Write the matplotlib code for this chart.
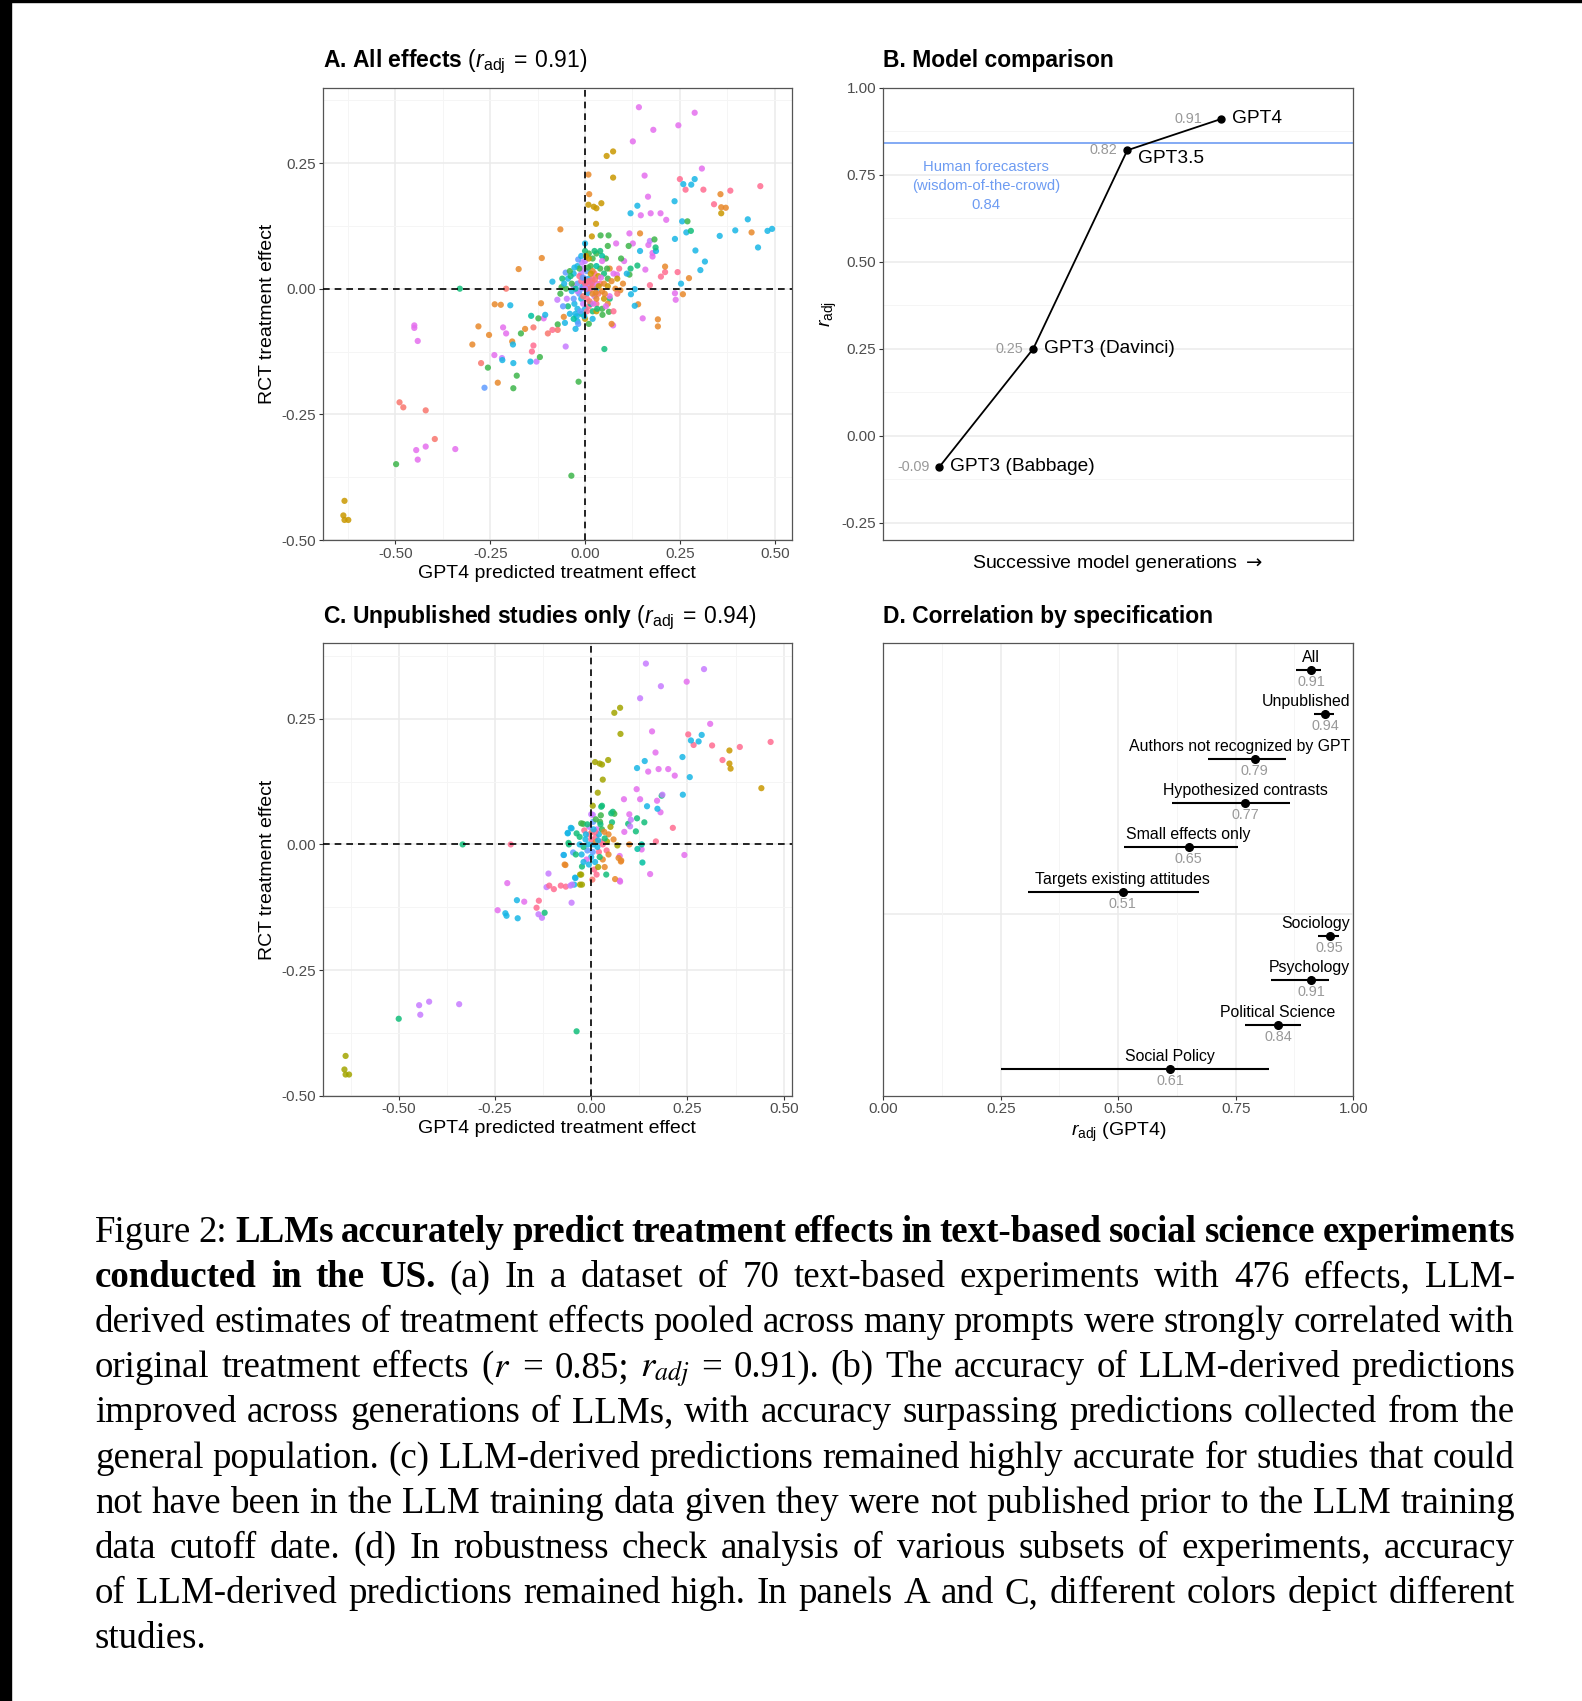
import matplotlib
matplotlib.use('Agg')
import matplotlib.pyplot as plt
from matplotlib.patches import Rectangle
import numpy as np

plt.rcParams['font.family'] = ['Liberation Sans', 'DejaVu Sans']
plt.rcParams['mathtext.fontset'] = 'custom'
plt.rcParams['mathtext.rm'] = 'Liberation Sans'
plt.rcParams['mathtext.it'] = 'Liberation Sans:italic'
plt.rcParams['mathtext.bf'] = 'Liberation Sans:bold'

# study colours (ggplot hue-like), keyed by a letter
STUDY_COLORS = {
    'S': '#F8766D', 'O': '#E8882A', 'G': '#C99800', 'L': '#A3A500',
    'g': '#3DB54A', 'E': '#12BE7A', 'T': '#00C0A0', 'C': '#18B6E6',
    'B': '#619CFF', 'V': '#C77CFF', 'M': '#E46FEE', 'P': '#FF6C91',
}

# panel A: (GPT4 predicted, RCT effect, study colour)
A_POINTS = [
    (-0.634, -0.422, 'G'), (-0.637, -0.451, 'G'), (-0.634, -0.460, 'G'), (-0.624, -0.460, 'G'),
    (-0.498, -0.349, 'g'), (-0.489, -0.226, 'S'), (-0.479, -0.236, 'S'), (-0.420, -0.242, 'S'),
    (-0.396, -0.299, 'S'), (-0.445, -0.321, 'M'), (-0.420, -0.314, 'M'), (-0.441, -0.340, 'M'),
    (-0.342, -0.319, 'M'), (-0.450, -0.073, 'M'), (-0.450, -0.078, 'M'), (-0.441, -0.104, 'M'),
    (-0.036, -0.372, 'g'), (-0.017, -0.185, 'g'), (-0.330, 0.000, 'E'), (-0.208, 0.000, 'S'),
    (-0.281, -0.075, 'O'), (-0.253, -0.092, 'O'), (-0.297, -0.111, 'O'), (-0.238, -0.031, 'O'),
    (-0.222, -0.032, 'O'), (-0.274, -0.148, 'S'), (-0.230, -0.187, 'O'), (-0.175, 0.039, 'O'),
    (-0.114, 0.061, 'O'), (-0.065, 0.118, 'O'), (-0.158, -0.080, 'O'), (-0.192, -0.105, 'O'),
    (-0.116, -0.029, 'O'), (-0.056, -0.056, 'O'),
    (-0.216, -0.077, 'M'), (-0.208, -0.089, 'M'), (-0.239, -0.132, 'M'), (-0.140, -0.125, 'P'),
    (-0.136, -0.113, 'P'), (-0.109, -0.059, 'M'), (-0.086, -0.082, 'P'),
    (-0.219, -0.138, 'V'), (-0.051, -0.115, 'V'), (-0.073, -0.022, 'V'), (-0.128, -0.145, 'V'),
    (-0.256, -0.157, 'g'), (-0.180, -0.173, 'g'), (-0.189, -0.198, 'g'), (-0.169, -0.089, 'g'),
    (-0.119, -0.136, 'g'), (-0.142, -0.054, 'T'), (-0.123, -0.059, 'g'), (-0.062, 0.003, 'g'),
    (-0.072, -0.071, 'g'), (-0.265, -0.197, 'B'), (-0.051, 0.032, 'B'),
    (-0.197, -0.033, 'C'), (-0.190, -0.111, 'C'), (-0.189, -0.148, 'C'), (-0.218, -0.142, 'C'),
    (-0.144, -0.145, 'C'), (-0.105, -0.052, 'C'), (-0.086, 0.014, 'C'), (-0.053, -0.068, 'C'),
    (-0.136, -0.077, 'S'), (-0.098, -0.089, 'S'), (-0.072, -0.082, 'S'),
    (0.142, 0.361, 'M'), (0.289, 0.350, 'M'), (0.246, 0.325, 'M'), (0.180, 0.316, 'M'),
    (0.126, 0.293, 'M'), (0.308, 0.239, 'M'), (0.157, 0.225, 'M'), (0.166, 0.183, 'M'),
    (0.147, 0.146, 'M'), (0.173, 0.150, 'M'), (0.199, 0.150, 'M'), (0.214, 0.137, 'M'),
    (0.117, 0.110, 'M'), (0.126, 0.090, 'M'), (0.082, 0.090, 'M'), (0.167, 0.087, 'M'),
    (0.178, 0.071, 'M'), (0.178, 0.064, 'M'), (0.171, 0.095, 'V'), (0.103, 0.055, 'M'),
    (0.159, 0.038, 'M'), (0.084, 0.028, 'M'), (0.237, -0.009, 'M'), (0.239, -0.022, 'M'),
    (0.152, -0.059, 'M'), (0.074, -0.073, 'M'), (0.171, 0.007, 'P'), (0.200, 0.024, 'P'),
    (0.250, 0.218, 'P'), (0.265, 0.197, 'P'), (0.312, 0.197, 'P'), (0.383, 0.195, 'P'),
    (0.462, 0.204, 'P'), (0.340, 0.168, 'P'), (0.211, 0.033, 'P'), (0.244, 0.033, 'P'),
    (0.057, 0.264, 'G'), (0.074, 0.273, 'G'), (0.074, 0.221, 'G'), (0.009, 0.167, 'G'),
    (0.023, 0.163, 'G'), (0.030, 0.160, 'G'), (0.043, 0.170, 'G'), (0.029, 0.129, 'G'),
    (0.018, 0.104, 'G'), (0.357, 0.188, 'O'), (0.359, 0.162, 'O'), (0.371, 0.161, 'O'),
    (0.359, 0.150, 'G'), (0.274, 0.021, 'O'), (0.258, -0.011, 'O'),
    (0.009, 0.227, 'O'), (0.011, 0.188, 'O'), (0.145, 0.110, 'O'), (0.211, 0.044, 'O'),
    (0.192, -0.061, 'O'), (0.192, -0.075, 'O'), (0.439, 0.112, 'O'), (0.140, -0.031, 'O'),
    (0.093, -0.003, 'O'),
    (0.138, 0.165, 'C'), (0.120, 0.150, 'C'), (0.236, 0.174, 'C'), (0.259, 0.208, 'C'),
    (0.280, 0.207, 'C'), (0.289, 0.218, 'C'), (0.256, 0.134, 'C'), (0.267, 0.112, 'C'),
    (0.237, 0.099, 'C'), (0.279, 0.115, 'E'), (0.355, 0.105, 'C'), (0.396, 0.116, 'C'),
    (0.429, 0.138, 'C'), (0.481, 0.115, 'C'), (0.493, 0.119, 'C'), (0.456, 0.082, 'C'),
    (0.316, 0.054, 'C'), (0.304, 0.037, 'C'), (0.291, 0.076, 'C'), (0.253, 0.010, 'C'),
    (0.145, 0.075, 'C'), (0.131, -0.001, 'C'), (0.121, -0.011, 'C'), (0.131, -0.034, 'C'),
    (0.187, 0.075, 'C'),
    (0.041, 0.106, 'g'), (0.062, 0.106, 'g'), (0.183, 0.098, 'g'), (0.186, 0.082, 'E'),
    (0.270, 0.134, 'g'), (0.115, 0.085, 'g'), (0.138, 0.046, 'E'), (0.117, 0.028, 'g'),
    (0.051, -0.120, 'E'), (0.046, -0.052, 'g'), (0.063, -0.046, 'g'),
    # dense centre
    (-0.030, 0.030, 'C'), (-0.020, 0.045, 'C'), (-0.045, 0.020, 'C'), (-0.010, -0.020, 'C'),
    (0.000, -0.040, 'C'), (-0.025, -0.050, 'C'), (-0.020, -0.065, 'C'), (0.005, -0.010, 'C'),
    (-0.035, -0.005, 'C'), (0.010, 0.020, 'C'), (0.030, 0.000, 'C'), (-0.005, 0.005, 'C'),
    (0.000, 0.090, 'C'), (0.015, 0.010, 'C'), (-0.028, -0.030, 'C'), (0.020, -0.060, 'C'),
    (-0.010, 0.000, 'B'), (-0.020, 0.010, 'B'), (0.000, 0.020, 'B'), (0.010, -0.005, 'B'),
    (-0.015, -0.010, 'B'), (0.005, 0.035, 'B'), (-0.030, -0.020, 'B'),
    (-0.005, 0.040, 'V'), (0.010, 0.005, 'V'), (-0.020, -0.005, 'V'), (0.025, -0.015, 'V'),
    (-0.010, 0.030, 'V'), (0.000, 0.055, 'V'), (-0.030, 0.005, 'V'),
    (0.000, 0.010, 'P'), (0.015, 0.000, 'P'), (-0.010, 0.015, 'P'), (0.020, 0.020, 'P'),
    (0.005, -0.020, 'P'), (0.030, -0.030, 'P'), (-0.015, 0.025, 'P'), (0.040, 0.010, 'P'),
    (0.025, 0.030, 'P'), (0.010, -0.035, 'P'),
    (0.005, 0.000, 'S'), (-0.005, -0.015, 'S'), (0.020, 0.005, 'S'), (0.035, -0.010, 'S'),
    (0.010, 0.015, 'S'),
    (-0.040, 0.035, 'g'), (-0.050, 0.000, 'g'), (0.030, 0.070, 'g'), (0.015, 0.045, 'g'),
    (0.040, 0.040, 'g'), (0.055, 0.060, 'g'), (-0.015, 0.040, 'g'), (0.045, -0.040, 'g'),
    (0.010, -0.070, 'g'), (-0.035, 0.010, 'g'), (0.020, 0.060, 'g'), (0.060, 0.020, 'g'),
    (-0.060, 0.020, 'E'), (0.000, 0.075, 'E'), (0.025, 0.075, 'E'), (0.050, 0.030, 'E'),
    (-0.045, -0.035, 'E'), (0.020, -0.045, 'E'), (0.065, -0.020, 'E'),
    (-0.025, 0.000, 'T'), (0.030, 0.045, 'T'), (0.045, 0.065, 'T'), (-0.010, -0.050, 'T'),
    (0.015, -0.030, 'T'),
    (0.030, -0.020, 'O'), (0.045, -0.005, 'O'), (0.060, -0.030, 'O'), (0.070, -0.070, 'O'),
    (0.020, 0.035, 'O'), (0.065, 0.040, 'O'), (0.080, 0.000, 'O'), (0.050, 0.010, 'O'),
    (0.020, -0.010, 'O'),
    (0.010, 0.060, 'G'), (0.035, 0.025, 'G'), (0.050, -0.020, 'G'), (0.000, -0.060, 'G'),
    (0.015, 0.030, 'G'), (0.060, 0.005, 'G'), (0.030, -0.045, 'G'),
    (0.045, 0.055, 'M'), (0.055, -0.035, 'M'), (0.065, -0.015, 'M'), (0.030, 0.010, 'M'),
    (0.090, 0.040, 'P'), (0.100, 0.010, 'O'), (0.085, -0.010, 'S'), (0.095, 0.060, 'g'),
    (0.075, 0.030, 'M'), (0.110, 0.030, 'C'), (0.120, 0.040, 'E'),
    (-0.020, -0.040, 'C'), (-0.022, -0.055, 'C'), (-0.018, -0.070, 'B'), (-0.025, -0.080, 'C'),
    (-0.030, -0.060, 'T'), (-0.040, -0.050, 'C'), (-0.012, -0.045, 'B'), (-0.005, -0.030, 'V'),
    (0.005, -0.045, 'P'), (0.012, -0.025, 'S'), (0.022, -0.030, 'M'), (0.028, -0.008, 'O'),
    (0.036, 0.005, 'G'), (0.008, 0.042, 'g'), (-0.008, 0.052, 'V'), (-0.018, 0.058, 'B'),
    (-0.028, 0.042, 'C'), (-0.038, 0.025, 'E'), (-0.055, 0.010, 'C'), (-0.065, -0.010, 'g'),
    (-0.048, -0.020, 'V'), (-0.058, -0.035, 'B'), (0.000, 0.000, 'V'), (0.004, 0.012, 'P'),
    (-0.006, 0.022, 'B'), (0.018, 0.012, 'P'), (0.026, 0.018, 'S'), (0.032, -0.040, 'E'),
    (0.042, 0.022, 'M'), (0.052, -0.010, 'O'), (0.058, 0.040, 'g'), (0.070, 0.015, 'O'),
    (0.075, -0.045, 'P'), (0.085, 0.020, 'G'), (-0.002, -0.055, 'C'), (0.010, 0.070, 'g'),
    (0.040, 0.075, 'E'), (0.060, 0.085, 'g'), (-0.010, 0.065, 'C'), (0.003, 0.065, 'G'),
]

# panel C: unpublished studies only
C_POINTS = [
    (-0.638, -0.421, 'L'), (-0.641, -0.448, 'L'), (-0.638, -0.458, 'L'), (-0.629, -0.458, 'L'),
    (-0.500, -0.347, 'E'), (-0.447, -0.320, 'V'), (-0.421, -0.313, 'V'), (-0.444, -0.339, 'V'),
    (-0.343, -0.318, 'V'), (-0.038, -0.372, 'E'), (-0.334, 0.000, 'E'), (-0.209, 0.000, 'P'),
    (-0.218, -0.077, 'M'), (-0.243, -0.131, 'M'), (-0.174, -0.114, 'M'), (-0.223, -0.137, 'C'),
    (-0.220, -0.142, 'C'), (-0.193, -0.111, 'C'), (-0.191, -0.147, 'C'), (-0.137, -0.139, 'V'),
    (-0.128, -0.146, 'V'), (-0.111, -0.058, 'V'), (-0.116, -0.085, 'V'), (-0.142, -0.126, 'P'),
    (-0.136, -0.112, 'P'), (-0.121, -0.136, 'E'), (-0.109, -0.082, 'P'), (-0.097, -0.089, 'P'),
    (-0.079, -0.082, 'P'), (-0.066, -0.084, 'P'), (-0.051, -0.116, 'V'), (-0.054, -0.082, 'V'),
    (-0.042, -0.066, 'C'), (-0.044, -0.080, 'C'), (-0.029, -0.080, 'L'), (-0.026, -0.060, 'L'),
    (-0.072, -0.021, 'B'), (-0.047, -0.016, 'B'), (-0.069, -0.040, 'O'), (-0.061, 0.023, 'C'),
    (-0.051, 0.032, 'C'), (-0.058, 0.000, 'E'), (-0.021, 0.041, 'g'),
    (0.004, 0.077, 'L'), (0.017, 0.103, 'L'), (0.030, 0.129, 'L'), (0.010, 0.164, 'L'),
    (0.022, 0.161, 'L'), (0.028, 0.159, 'L'), (0.044, 0.168, 'L'), (0.060, 0.262, 'L'),
    (0.075, 0.272, 'L'), (0.076, 0.220, 'L'),
    (0.028, 0.077, 'E'), (0.056, 0.065, 'E'), (0.060, 0.061, 'g'), (0.025, 0.058, 'g'),
    (0.054, 0.044, 'E'), (0.096, 0.041, 'E'), (0.119, 0.052, 'E'), (0.138, 0.044, 'E'),
    (0.116, 0.026, 'E'), (0.183, 0.097, 'E'), (0.039, -0.060, 'E'),
    (0.142, 0.360, 'V'), (0.293, 0.349, 'V'), (0.181, 0.315, 'V'), (0.127, 0.291, 'V'),
    (0.103, 0.049, 'V'), (0.101, 0.036, 'V'), (0.004, 0.059, 'V'), (0.185, 0.099, 'V'),
    (0.248, 0.324, 'M'), (0.309, 0.240, 'M'), (0.158, 0.225, 'M'), (0.167, 0.183, 'M'),
    (0.148, 0.145, 'M'), (0.175, 0.150, 'M'), (0.200, 0.150, 'M'), (0.217, 0.137, 'M'),
    (0.118, 0.110, 'M'), (0.127, 0.090, 'M'), (0.085, 0.090, 'M'), (0.171, 0.087, 'M'),
    (0.180, 0.064, 'M'), (0.086, 0.025, 'M'), (0.074, -0.023, 'M'), (0.074, -0.072, 'M'),
    (0.153, -0.059, 'M'), (0.242, -0.021, 'M'), (0.099, 0.060, 'M'), (0.131, -0.010, 'M'),
    (0.252, 0.219, 'P'), (0.266, 0.198, 'P'), (0.314, 0.197, 'P'), (0.386, 0.194, 'P'),
    (0.466, 0.204, 'P'), (0.341, 0.168, 'P'), (0.212, 0.033, 'P'), (0.168, 0.006, 'P'),
    (0.359, 0.187, 'G'), (0.359, 0.161, 'G'), (0.362, 0.151, 'G'), (0.442, 0.112, 'G'),
    (0.259, 0.207, 'C'), (0.279, 0.205, 'C'), (0.287, 0.218, 'C'), (0.237, 0.174, 'C'),
    (0.139, 0.166, 'C'), (0.119, 0.152, 'C'), (0.256, 0.134, 'C'), (0.238, 0.099, 'C'),
    (0.145, 0.076, 'C'), (0.172, 0.071, 'C'), (0.120, -0.009, 'T'), (0.133, -0.036, 'T'),
    (0.131, 0.000, 'T'),
    (0.062, -0.069, 'O'), (0.078, -0.032, 'O'), (0.099, 0.000, 'O'),
    (-0.059, 0.003, 'E'), (-0.053, 0.033, 'C'), (-0.061, 0.022, 'C'), (-0.038, 0.022, 'E'),
    (-0.026, 0.042, 'g'), (-0.071, -0.021, 'C'), (-0.067, -0.041, 'O'), (-0.024, -0.044, 'E'),
    (-0.029, -0.060, 'L'), (-0.024, -0.080, 'L'), (-0.041, -0.067, 'C'), (-0.050, -0.080, 'V'),
    (0.075, -0.074, 'M'), (0.071, -0.027, 'O'), (0.077, -0.034, 'O'), (0.045, 0.020, 'O'),
    (0.058, 0.010, 'O'), (0.068, -0.002, 'L'), (0.041, 0.006, 'L'), (0.023, 0.045, 'g'),
    (0.052, 0.062, 'E'), (0.026, 0.075, 'E'),
    (-0.015, 0.010, 'C'), (-0.005, 0.020, 'P'), (0.005, 0.000, 'C'), (0.012, 0.015, 'P'),
    (-0.010, -0.012, 'B'), (0.000, -0.025, 'C'), (0.010, -0.035, 'C'), (0.020, -0.015, 'P'),
    (-0.020, -0.005, 'E'), (0.015, 0.030, 'M'), (-0.005, 0.035, 'V'), (0.025, 0.005, 'P'),
    (0.030, -0.030, 'O'), (0.005, 0.045, 'B'), (-0.030, 0.015, 'E'), (0.000, 0.010, 'P'),
    (0.020, 0.020, 'C'), (-0.012, -0.030, 'M'), (0.008, -0.050, 'P'), (0.035, 0.012, 'E'),
    (-0.025, -0.020, 'C'), (0.018, -0.045, 'L'), (0.003, -0.070, 'S'), (0.040, -0.012, 'P'),
    (-0.008, 0.000, 'C'), (0.012, 0.005, 'O'), (0.028, 0.030, 'g'), (-0.018, 0.028, 'P'),
    (0.002, 0.025, 'S'), (0.016, -0.005, 'C'),
    (-0.006, -0.040, 'C'), (0.004, -0.015, 'B'), (0.010, 0.025, 'P'), (-0.014, 0.020, 'C'),
    (0.022, -0.025, 'E'), (0.030, 0.000, 'P'), (0.006, 0.030, 'C'), (-0.020, -0.035, 'C'),
    (0.014, -0.060, 'P'), (0.035, -0.045, 'O'), (0.045, -0.020, 'O'), (0.024, 0.040, 'E'),
    (-0.030, 0.000, 'C'), (-0.040, -0.020, 'E'), (0.000, 0.060, 'V'), (0.012, 0.050, 'g'),
    (0.050, 0.035, 'L'), (0.034, 0.025, 'O'), (-0.010, 0.040, 'E'), (0.018, 0.008, 'C'),
]

# panel B: model generations
MODEL_NAMES = ['GPT3 (Babbage)', 'GPT3 (Davinci)', 'GPT3.5', 'GPT4']
MODEL_R = [-0.09, 0.25, 0.82, 0.91]
HUMAN_R = 0.84

# panel D: correlation by specification
SPEC_NAMES = ['All', 'Unpublished', 'Authors not recognized by GPT', 'Hypothesized contrasts',
              'Small effects only', 'Targets existing attitudes',
              'Sociology', 'Psychology', 'Political Science', 'Social Policy']
SPEC_R = [0.91, 0.94, 0.79, 0.77, 0.65, 0.51, 0.95, 0.91, 0.84, 0.61]
SPEC_LO = [0.879, 0.916, 0.691, 0.614, 0.512, 0.307, 0.925, 0.826, 0.770, 0.250]
SPEC_HI = [0.931, 0.960, 0.857, 0.865, 0.755, 0.671, 0.970, 0.949, 0.888, 0.821]

CAPTION_LINES = [
    [('Figure 2:', False), ('LLMs accurately predict treatment effects in text-based social science experiments', True)],
    [('conducted in the US.', True), ('(a) In a dataset of 70 text-based experiments with 476 effects, LLM-', False)],
    [('derived estimates of treatment effects pooled across many prompts were strongly correlated with', False)],
    [('original treatment effects ($r$ = 0.85; $r_{adj}$ = 0.91). (b) The accuracy of LLM-derived predictions', False)],
    [('improved across generations of LLMs, with accuracy surpassing predictions collected from the', False)],
    [('general population. (c) LLM-derived predictions remained highly accurate for studies that could', False)],
    [('not have been in the LLM training data given they were not published prior to the LLM training', False)],
    [('data cutoff date. (d) In robustness check analysis of various subsets of experiments, accuracy', False)],
    [('of LLM-derived predictions remained high. In panels A and C, different colors depict different', False)],
    [('studies.', False)],
]

W, H = 1582, 1701
BLUE = '#6E9CF2'
GRID = '#EBEBEB'
GRID_MINOR = '#F5F5F5'


def style(ax):
    for s in ax.spines.values():
        s.set_color('#555555')
        s.set_linewidth(0.9)
    ax.set_axisbelow(True)
    ax.tick_params(which='major', length=2.75, width=0.8, color='#333333',
                   labelcolor='#4D4D4D', labelsize=11, pad=2)
    ax.tick_params(which='minor', length=0)


def fmt(vals):
    return [f'{v:.2f}' for v in vals]


def scatter_panel(ax, pts, title, xlim):
    xs, ys, cs = zip(*pts)
    ax.scatter(xs, ys, c=[STUDY_COLORS[c] for c in cs], s=20, alpha=0.85,
               linewidths=0, zorder=3)
    ax.axhline(0, color='black', ls=(0, (4, 3)), lw=1.2, zorder=4)
    ax.axvline(0, color='black', ls=(0, (4, 3)), lw=1.2, zorder=4)
    xt = [-0.5, -0.25, 0, 0.25, 0.5]
    yt = [-0.5, -0.25, 0, 0.25]
    ax.set_xticks(xt)
    ax.set_xticklabels(fmt(xt))
    ax.set_yticks(yt)
    ax.set_yticklabels(fmt(yt))
    ax.set_xticks([-0.625, -0.375, -0.125, 0.125, 0.375], minor=True)
    ax.set_yticks([-0.375, -0.125, 0.125, 0.375], minor=True)
    ax.grid(which='major', color=GRID, lw=1.1)
    ax.grid(which='minor', color=GRID_MINOR, lw=0.7)
    ax.set_xlim(*xlim)
    ax.set_ylim(-0.5, 0.40)
    ax.set_xlabel('GPT4 predicted treatment effect', fontsize=14, labelpad=3)
    ax.set_ylabel('RCT treatment effect', fontsize=14, labelpad=4)
    # bold plain text, math part in regular weight
    ax.set_title(title, loc='left', fontsize=16.5, fontweight='bold', pad=15)
    style(ax)


fig = plt.figure(figsize=(W / 100, H / 100), dpi=100)

# panel A
axa = fig.add_axes([0.2041, 0.6825, 0.2964, 0.2660])
scatter_panel(axa, A_POINTS, r'A. All effects $(r_{\mathrm{adj}}\:=\:0.91)$', (-0.691, 0.545))

# panel C
axc = fig.add_axes([0.2041, 0.3559, 0.2964, 0.2658])
scatter_panel(axc, C_POINTS, r'C. Unpublished studies only $(r_{\mathrm{adj}}\:=\:0.94)$', (-0.697, 0.521))

# panel B
axb = fig.add_axes([0.5581, 0.6825, 0.2971, 0.2660])
gen = np.arange(1, len(MODEL_R) + 1)
axb.axhline(HUMAN_R, color=BLUE, lw=1.2, zorder=2)
axb.plot(gen, MODEL_R, color='black', lw=1.3, marker='o', ms=5, zorder=3)
name_dy = {'GPT3.5': -6}
val_dx = {'GPT4': -14}
for x, r, name in zip(gen, MODEL_R, MODEL_NAMES):
    axb.annotate(name, (x, r), xytext=(7.5, name_dy.get(name, 0)), textcoords='offset points',
                 ha='left', va='center', fontsize=13.8)
    axb.annotate(f'{r:.2f}', (x, r), xytext=(val_dx.get(name, -7), 0), textcoords='offset points',
                 ha='right', va='center', fontsize=10.4, color='#999999')
axb.text(1.5, 0.716, f'Human forecasters\n(wisdom-of-the-crowd)\n{HUMAN_R:.2f}',
         ha='center', va='center', color=BLUE, fontsize=10.7, linespacing=1.45)
yt = [-0.25, 0, 0.25, 0.5, 0.75, 1.0]
axb.set_yticks(yt)
axb.set_yticklabels(fmt(yt))
axb.set_yticks([-0.125, 0.125, 0.375, 0.625, 0.875], minor=True)
axb.set_xticks([])
axb.grid(axis='y', which='major', color=GRID, lw=1.1)
axb.grid(axis='y', which='minor', color=GRID_MINOR, lw=0.7)
axb.set_xlim(0.4, 5.4)
axb.set_ylim(-0.30, 1.0)
axb.set_xlabel(r'Successive model generations $\rightarrow$', fontsize=14, labelpad=9,
               math_fontfamily='dejavusans')
axb.set_ylabel(r'$r_{\mathrm{adj}}$', fontsize=14, labelpad=2)
axb.set_title('B. Model comparison', loc='left', fontsize=16.5, fontweight='bold', pad=15)
style(axb)

# panel D
axd = fig.add_axes([0.5583, 0.3559, 0.2971, 0.2658])
ypos = np.arange(1, len(SPEC_R) + 1)
axd.hlines(ypos, SPEC_LO, SPEC_HI, color='black', lw=1.5, zorder=3)
axd.plot(SPEC_R, ypos, 'o', color='black', ms=5.5, zorder=4)
axd.axhline(6.5, color=GRID, lw=1.1, zorder=0)
d_labels = []
for y, r, name in zip(ypos, SPEC_R, SPEC_NAMES):
    t = axd.annotate(name, (r, y), xytext=(0, 9), textcoords='offset points',
                     ha='center', va='center', fontsize=11.4)
    d_labels.append(t)
    axd.annotate(f'{r:.2f}', (r, y), xytext=(0, -8.6), textcoords='offset points',
                 ha='center', va='center', fontsize=10.4, color='#999999')
xt = [0, 0.25, 0.5, 0.75, 1.0]
axd.set_xticks(xt)
axd.set_xticklabels(fmt(xt))
axd.set_xticks([0.125, 0.375, 0.625, 0.875], minor=True)
axd.set_yticks([])
axd.grid(axis='x', which='major', color=GRID, lw=1.1)
axd.grid(axis='x', which='minor', color=GRID_MINOR, lw=0.7)
axd.set_xlim(0, 1)
axd.set_ylim(10.6, 0.4)
axd.set_xlabel(r'$r_{\mathrm{adj}}$ (GPT4)', fontsize=14, labelpad=3)
axd.set_title('D. Correlation by specification', loc='left', fontsize=16.5, fontweight='bold', pad=15)
style(axd)

# keep panel D labels inside the panel
fig.canvas.draw()
rend = fig.canvas.get_renderer()
right = axd.get_window_extent(rend).x1 - 3
for t in d_labels:
    bb = t.get_window_extent(rend)
    if bb.x1 > right:
        t.xyann = (-(bb.x1 - right) * 72 / 100, t.xyann[1])

# caption, justified word by word
x0, x1 = 95, 1515
for i, segs in enumerate(CAPTION_LINES):
    ybase = 1242 + 45.1 * i
    words = [(w, b) for seg, b in segs for w in seg.split(' ')]
    texts = [fig.text(0, 1 - ybase / H, w, fontsize=26.6, family='Liberation Serif',
                      fontweight='bold' if b else 'normal', math_fontfamily='stix',
                      va='baseline') for w, b in words]
    widths = [t.get_window_extent(rend).width for t in texts]
    if i < len(CAPTION_LINES) - 1:
        gap = max(5, (x1 - x0 - sum(widths)) / (len(texts) - 1))
    else:
        gap = 9
    x = x0
    for t, w in zip(texts, widths):
        t.set_x(x / W)
        x += w + gap

# black screenshot edges
fig.add_artist(Rectangle((0, 1 - 2 / H), 1, 2 / H, color='black', transform=fig.transFigure))
fig.add_artist(Rectangle((0, 0), 11 / W, 1, color='black', transform=fig.transFigure))

fig.savefig('out.png', dpi=100)
